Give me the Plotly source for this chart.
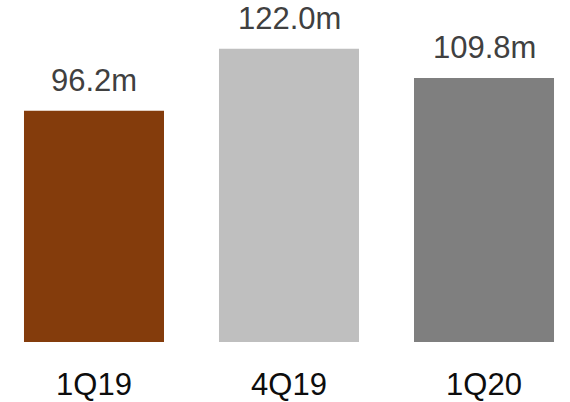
import plotly.graph_objects as go

# Quarterly values (millions)
quarters = ["1Q19", "4Q19", "1Q20"]
values = [96.2, 122.0, 109.8]
bar_colors = ["#843C0C", "#BFBFBF", "#7F7F7F"]

FONT = "Liberation Sans, Arial, sans-serif"

fig = go.Figure(
    go.Bar(
        x=quarters,
        y=values,
        width=0.718,
        marker=dict(color=bar_colors, line=dict(width=0)),
        hoverinfo="skip",
    )
)

# Value labels above each bar
for q, v in zip(quarters, values):
    fig.add_annotation(
        x=q, y=v, text=f"{v:.1f}m",
        showarrow=False, yanchor="bottom", yshift=11,
        font=dict(family=FONT, size=31, color="#404040"),
    )

fig.update_layout(
    width=570, height=402,
    margin=dict(l=0, r=0, t=0, b=56),
    paper_bgcolor="white", plot_bgcolor="white",
    showlegend=False,
    xaxis=dict(
        range=[-0.482, 2.441],
        showgrid=False, zeroline=False, showline=False,
        ticks="outside", ticklen=15, tickcolor="rgba(0,0,0,0)",
        tickfont=dict(family=FONT, size=31, color="#0D0D0D"),
    ),
    yaxis=dict(
        range=[0, 142.3],
        visible=False,
    ),
)

fig.write_html("out.html")
